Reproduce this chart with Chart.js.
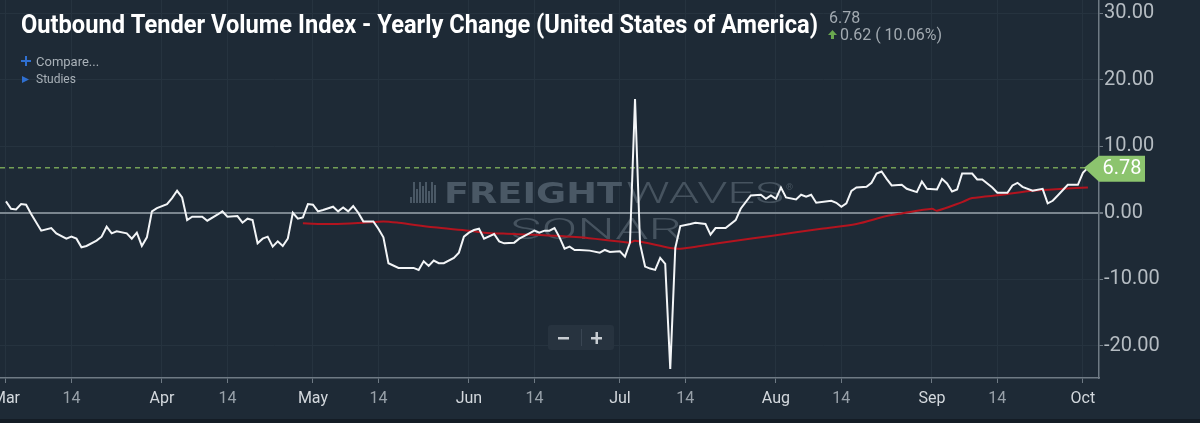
<!DOCTYPE html>
<html>
<head>
<meta charset="utf-8">
<title>Outbound Tender Volume Index - Yearly Change</title>
<script src="https://cdn.jsdelivr.net/npm/chart.js@4.4.0/dist/chart.umd.min.js"></script>
<style>
  html, body { margin: 0; padding: 0; background: #1e2a36; }
  #wrap { width: 1200px; height: 423px; position: relative; }
</style>
</head>
<body>
<div id="wrap"><canvas id="otvi" width="1200" height="423"></canvas></div>
<script>
// x positions are days counted from 1 March
const tickDays = [0, 13, 31, 44, 61, 74, 92, 105, 122, 135, 153, 166, 184, 197, 214];
const tickLabels = ['Mar', '14', 'Apr', '14', 'May', '14', 'Jun', '14', 'Jul', '14', 'Aug', '14', 'Sep', '14', 'Oct'];
const yTicks = [-20, -10, 0, 10, 20, 30];

// OTVI yearly change (white line)
const otviDays = [0, 1, 2, 3, 4, 5, 7, 9, 10, 12, 13, 14, 15, 16, 18, 19, 20, 21, 22, 24,
  25, 26, 27, 28, 29, 30, 32, 33, 34, 35, 36, 37, 39, 40, 42, 43, 44, 46, 47, 48,
  49, 50, 51, 52, 53, 54, 55, 56, 57, 58, 59, 60, 61, 62, 63, 65, 66, 67, 68, 69,
  70, 71, 73, 74, 75, 76, 78, 79, 81, 82, 83, 84, 85, 86, 87, 89, 90, 91, 92, 93,
  94, 95, 97, 98, 99, 101, 102, 104, 105, 106, 107, 108, 109, 110, 111, 112, 113, 114, 116, 118,
  119, 120, 122, 123, 124, 125, 126, 127, 128, 129, 130, 131, 132, 133, 134, 136, 137, 139, 140, 141,
  143, 145, 146, 148, 150, 151, 152, 153, 154, 155, 157, 158, 159, 160, 161, 164, 165, 166, 167, 168,
  169, 171, 172, 173, 174, 175, 176, 178, 179, 181, 182, 183, 185, 186, 187, 188, 189, 190, 192, 193,
  194, 196, 197, 199, 200, 201, 202, 204, 206, 207, 208, 209, 211, 213, 214, 215];
const otviValues = [1.7, 0.6, 0.5, 1.3, 1.2, -0.2, -2.7, -2.3, -3.1, -3.9, -3.6, -3.9, -5.2, -5.0, -4.2, -3.6, -2.1, -3.1, -2.8, -3.1,
  -3.9, -3.0, -5.0, -3.7, 0.2, 0.7, 1.3, 2.2, 3.3, 2.3, -1.1, -0.6, -0.6, -1.2, -0.3, 0.2, -0.6, -0.5, -1.5, -0.9,
  -1.1, -4.6, -3.9, -3.6, -5.1, -4.3, -5.0, -3.9, 0.0, -0.9, -0.7, 1.3, 1.2, 0.2, 0.4, 0.9, 0.2, 0.8, 0.2, 1.0,
  0.0, -1.3, -1.3, -2.4, -3.7, -7.6, -8.3, -8.3, -8.3, -8.6, -7.3, -8.0, -7.2, -7.6, -7.6, -6.8, -6.0, -3.6, -3.0, -2.6,
  -2.4, -3.9, -3.2, -4.3, -4.6, -4.5, -3.9, -3.1, -2.7, -3.0, -2.7, -2.7, -2.3, -3.7, -5.4, -5.1, -5.6, -5.6, -5.7, -6.0,
  -5.6, -5.9, -5.8, -6.6, -4.5, 17.1, -4.7, -8.1, -8.4, -8.6, -6.8, -7.7, -23.5, -5.3, -2.0, -1.7, -1.5, -1.7, -3.3, -2.3,
  -2.3, -1.1, 0.6, 2.6, 2.7, 2.1, 2.6, 2.1, 3.8, 2.3, 2.0, 2.7, 2.4, 2.7, 1.5, 1.8, 1.5, 0.9, 1.4, 3.3,
  3.8, 3.9, 4.5, 5.9, 6.2, 5.1, 4.1, 4.2, 3.6, 3.1, 4.7, 3.6, 3.5, 5.1, 4.4, 3.2, 3.5, 5.9, 5.9, 5.0,
  5.0, 3.8, 3.0, 3.0, 4.1, 4.5, 3.9, 3.3, 3.6, 1.4, 1.8, 2.6, 4.2, 4.2, 6.0, 6.78];

// moving average study (red line)
const avgDays = [59, 65, 71, 75, 78, 85, 92, 95, 101, 114, 124, 125, 132, 134, 138, 145, 152, 162, 169, 175,
  178, 184, 185, 190, 192, 198, 204, 210, 215];
const avgValues = [-1.6, -1.7, -1.5, -1.3, -1.5, -2.2, -2.7, -3.0, -3.2, -3.7, -4.5, -4.2, -5.3, -5.4, -5.0, -4.2, -3.5, -2.4, -1.7, -0.5,
  -0.1, 0.6, 0.3, 1.6, 2.2, 2.7, 3.3, 3.6, 3.8];

const titleText = 'Outbound Tender Volume Index - Yearly Change (United States of America)';
const lastChange = '0.62 ( 10.06%)';

const lastValue = otviValues[otviValues.length - 1];

function fitText(ctx, text, x, y, width) {
  const w = ctx.measureText(text).width;
  ctx.save();
  ctx.translate(x, y);
  ctx.scale(width / w, 1);
  ctx.fillText(text, 0, 0);
  ctx.restore();
}

const decorations = {
  id: 'decorations',
  beforeDraw(chart) {
    const ctx = chart.ctx;
    ctx.save();
    ctx.fillStyle = '#1e2a36';
    ctx.fillRect(0, 0, chart.width, chart.height);
    ctx.restore();
  },
  beforeDatasetsDraw(chart) {
    const ctx = chart.ctx;
    const area = chart.chartArea;
    const y = chart.scales.y;
    ctx.save();
    // watermark
    ctx.fillStyle = '#4a5865';
    ctx.textBaseline = 'alphabetic';
    const bars = [[410, 6], [413, 21], [416, 14], [419, 21], [422, 17], [425, 21], [428, 12], [431, 21], [434, 18]];
    bars.forEach(b => ctx.fillRect(b[0], 203 - b[1], 2, b[1]));
    ctx.font = '900 29px "DejaVu Sans"';
    fitText(ctx, 'FREIGHT', 444, 203, 178);
    ctx.fillStyle = '#46535f';
    ctx.font = '300 29px Roboto';
    fitText(ctx, 'WAVES', 626, 203, 158);
    ctx.font = '300 29px Roboto';
    fitText(ctx, 'SONAR', 510, 239, 172);
    ctx.font = '9px Roboto';
    ctx.fillText('®', 786, 190);

    // last value guide
    const py = y.getPixelForValue(lastValue);
    ctx.strokeStyle = '#74a056';
    ctx.lineWidth = 1.5;
    ctx.setLineDash([5, 4]);
    ctx.beginPath();
    ctx.moveTo(area.left, py);
    ctx.lineTo(area.right, py);
    ctx.stroke();
    ctx.restore();
  },
  afterDraw(chart) {
    const ctx = chart.ctx;
    const y = chart.scales.y;
    const area = chart.chartArea;
    ctx.save();

    // title
    ctx.fillStyle = '#ffffff';
    ctx.font = 'bold 25px Roboto';
    ctx.textBaseline = 'alphabetic';
    fitText(ctx, titleText, 21, 33, 797);

    ctx.fillStyle = '#a2aab1';
    ctx.font = '16px Roboto';
    ctx.fillText(lastValue.toFixed(2), 829, 23);
    ctx.fillText(lastChange, 840, 40);
    ctx.fillStyle = '#6aa84f';
    ctx.beginPath();
    ctx.moveTo(832.5, 30);
    ctx.lineTo(837, 35);
    ctx.lineTo(828, 35);
    ctx.closePath();
    ctx.fill();
    ctx.fillRect(831, 35, 3, 4);

    // compare / studies
    ctx.fillStyle = '#2f6fd0';
    ctx.fillRect(21, 60, 10, 2);
    ctx.fillRect(25, 56, 2, 10);
    ctx.beginPath();
    ctx.moveTo(22, 76);
    ctx.lineTo(29, 79.5);
    ctx.lineTo(22, 83);
    ctx.closePath();
    ctx.fill();
    ctx.fillStyle = '#a9b1b8';
    ctx.font = '13px Roboto';
    ctx.textBaseline = 'middle';
    ctx.fillText('Compare...', 36, 63);
    ctx.font = '12px Roboto';
    ctx.fillText('Studies', 36, 80);

    // last value tag
    const py = y.getPixelForValue(lastValue);
    ctx.fillStyle = '#8cc46e';
    ctx.beginPath();
    ctx.moveTo(area.right - 15, py);
    ctx.lineTo(area.right, py - 12);
    ctx.lineTo(1145, py - 12);
    ctx.lineTo(1145, py + 14);
    ctx.lineTo(area.right, py + 14);
    ctx.closePath();
    ctx.fill();
    ctx.fillStyle = '#ffffff';
    ctx.font = '20px Roboto';
    ctx.textAlign = 'center';
    ctx.fillText(lastValue.toFixed(2), 1122, py + 1);

    // zoom buttons
    ctx.fillStyle = '#27333f';
    ctx.beginPath();
    ctx.roundRect(548, 325, 66, 25, 3);
    ctx.fill();
    ctx.fillStyle = '#3a4653';
    ctx.fillRect(581, 329, 1, 17);
    ctx.fillStyle = '#c8cdd2';
    ctx.fillRect(558, 337, 11, 2.5);
    ctx.fillRect(591, 337, 11, 2.5);
    ctx.fillRect(595.5, 332, 2.5, 12);

    // bottom strip
    ctx.fillStyle = '#141c25';
    ctx.fillRect(0, 419, chart.width, 4);
    ctx.restore();
  }
};

new Chart(document.getElementById('otvi'), {
  type: 'line',
  data: {
    datasets: [
      {
        label: 'Outbound Tender Volume Index - Yearly Change',
        data: otviDays.map((d, i) => ({ x: d, y: otviValues[i] })),
        borderColor: '#f3f5f7',
        borderWidth: 2,
        pointRadius: 0,
        tension: 0
      },
      {
        label: 'Moving average',
        data: avgDays.map((d, i) => ({ x: d, y: avgValues[i] })),
        borderColor: '#b3141f',
        borderWidth: 2,
        pointRadius: 0,
        tension: 0.3
      }
    ]
  },
  options: {
    responsive: false,
    animation: false,
    devicePixelRatio: 1,
    layout: { padding: 0 },
    plugins: { legend: { display: false }, tooltip: { enabled: false } },
    scales: {
      x: {
        type: 'linear',
        min: -1.19,
        max: 217.2,
        afterBuildTicks: s => { s.ticks = tickDays.map(v => ({ value: v })); },
        afterFit: s => { s.height = 45; s.paddingLeft = 0; s.paddingRight = 0; },
        grid: { color: '#26333f', lineWidth: 1, tickColor: '#6f7a84', tickLength: 5 },
        border: { color: '#6f7a84', width: 1.5 },
        ticks: {
          autoSkip: false,
          maxRotation: 0,
          padding: 6,
          font: { family: 'Roboto', size: 16 },
          color: c => (c.index % 2 === 0 ? '#d3d8dd' : '#98a1a9'),
          callback: (v, i) => tickLabels[i]
        }
      },
      y: {
        position: 'right',
        min: -24.86,
        max: 32.0,
        afterBuildTicks: s => { s.ticks = yTicks.map(v => ({ value: v })); },
        afterFit: s => { s.width = 101; s.paddingTop = 0; s.paddingBottom = 0; },
        grid: {
          color: c => (c.tick && c.tick.value === 0 ? '#7b868f' : '#26333f'),
          lineWidth: c => (c.tick && c.tick.value === 0 ? 2 : 1),
          tickColor: '#6f7a84',
          tickLength: 4
        },
        border: { color: '#6f7a84', width: 1.5 },
        ticks: {
          padding: 1,
          font: { family: 'Roboto', size: 20 },
          color: '#b5bcc2',
          callback: v => v.toFixed(2)
        }
      }
    }
  },
  plugins: [decorations]
});
</script>
</body>
</html>
